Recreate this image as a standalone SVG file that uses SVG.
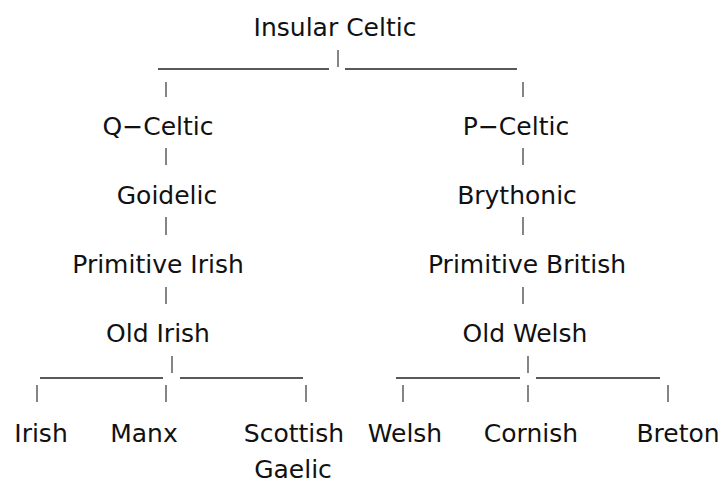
<svg xmlns="http://www.w3.org/2000/svg" width="723" height="484" viewBox="0 0 723 484">
<style>
  text { font-family: "DejaVu Sans", "Liberation Sans", sans-serif; font-size: 25px; fill: #111; text-anchor: middle; }
  .v { stroke: #333; stroke-width: 1.2; fill: none; }
  .h { stroke: #222; stroke-width: 1.4; fill: none; }
</style>
<rect width="723" height="484" fill="#fff"/>
<g id="connectors">
  <line class="v" x1="338" y1="50" x2="338" y2="67"/>
  <line class="h" x1="158" y1="69" x2="329" y2="69"/>
  <line class="h" x1="345" y1="69" x2="517" y2="69"/>
  <line class="v" x1="166" y1="82" x2="166" y2="97"/>
  <line class="v" x1="523" y1="82" x2="523" y2="97"/>
  <line class="v" x1="166" y1="148" x2="166" y2="165"/>
  <line class="v" x1="166" y1="217" x2="166" y2="235"/>
  <line class="v" x1="166" y1="287" x2="166" y2="304"/>
  <line class="v" x1="523" y1="148" x2="523" y2="165"/>
  <line class="v" x1="523" y1="217" x2="523" y2="235"/>
  <line class="v" x1="523" y1="287" x2="523" y2="304"/>
  <line class="v" x1="172" y1="356" x2="172" y2="373"/>
  <line class="h" x1="40" y1="378" x2="163" y2="378"/>
  <line class="h" x1="180" y1="378" x2="303" y2="378"/>
  <line class="v" x1="37" y1="385" x2="37" y2="402"/>
  <line class="v" x1="166" y1="385" x2="166" y2="402"/>
  <line class="v" x1="306" y1="385" x2="306" y2="402"/>
  <line class="v" x1="528" y1="356" x2="528" y2="373"/>
  <line class="h" x1="396" y1="378" x2="520" y2="378"/>
  <line class="h" x1="536" y1="378" x2="660" y2="378"/>
  <line class="v" x1="403" y1="385" x2="403" y2="402"/>
  <line class="v" x1="528" y1="385" x2="528" y2="402"/>
  <line class="v" x1="668" y1="385" x2="668" y2="402"/>
</g>
<g id="insular-celtic"><text x="335" y="36">Insular Celtic</text></g>
<g id="q-celtic"><text x="158" y="135">Q−Celtic</text></g>
<g id="goidelic"><text x="167" y="204">Goidelic</text></g>
<g id="primitive-irish"><text x="158" y="273">Primitive Irish</text></g>
<g id="old-irish"><text x="158" y="342">Old Irish</text></g>
<g id="p-celtic"><text x="516" y="135">P−Celtic</text></g>
<g id="brythonic"><text x="517" y="204">Brythonic</text></g>
<g id="primitive-british"><text x="527" y="273">Primitive British</text></g>
<g id="old-welsh"><text x="525" y="342">Old Welsh</text></g>
<g id="irish"><text x="41" y="442">Irish</text></g>
<g id="manx"><text x="144" y="442">Manx</text></g>
<g id="scottish-gaelic"><text x="294" y="442">Scottish</text><text x="293" y="478">Gaelic</text></g>
<g id="welsh"><text x="405" y="442">Welsh</text></g>
<g id="cornish"><text x="531" y="442">Cornish</text></g>
<g id="breton"><text x="678" y="442">Breton</text></g>
</svg>
